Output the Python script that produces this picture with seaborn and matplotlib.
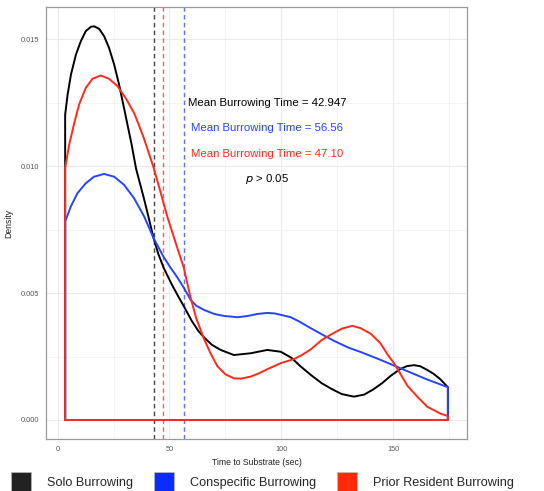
import numpy as np
import pandas as pd
import matplotlib
matplotlib.use("Agg")
import matplotlib.pyplot as plt
from matplotlib.patches import Patch
from matplotlib.ticker import MultipleLocator
import seaborn as sns

# Groups and their mean times
groups = ["Solo Burrowing", "Conspecific Burrowing", "Prior Resident Burrowing"]
means = [42.947, 56.56, 47.10]
mean_labels = ["42.947", "56.56", "47.10"]

# Density estimates (time in sec, density)
solo_t = [3.4, 4.5, 6.0, 8.2, 10.4, 12.6, 14.9, 16.3, 18.6, 20.8, 23.0,
          25.3, 27.5, 29.7, 31.25, 33.0, 35.1, 38.4, 40.5, 42.9, 45.0, 47.4,
          51.0, 54.0, 56.5, 60.0, 63.0, 65.4, 69.0, 72.9, 78.8, 86.3, 93.7,
          99.7, 104.5, 108.5, 113.1, 118.0, 122.5, 127.0, 132.4, 137.0,
          141.0, 145.0, 149.0, 153.0, 156.0, 159.2, 162.0, 165.2, 168.0,
          171.1, 174.4]
solo_d = [0.01204, 0.01283, 0.01362, 0.01440, 0.01493, 0.01533, 0.01550,
          0.01552, 0.01542, 0.01513, 0.01467, 0.01401, 0.01322, 0.01230,
          0.01164, 0.01090, 0.00990, 0.00880, 0.00805, 0.00717, 0.00655,
          0.00600, 0.00535, 0.00486, 0.00447, 0.00390, 0.00350, 0.00326,
          0.00296, 0.00276, 0.00256, 0.00263, 0.00276, 0.00269, 0.00245,
          0.00212, 0.00178, 0.00145, 0.00122, 0.00102, 0.00092, 0.00100,
          0.00120, 0.00145, 0.00175, 0.00200, 0.00212, 0.00216, 0.00212,
          0.00197, 0.00182, 0.00160, 0.00129]

consp_t = [3.4, 5.9, 8.9, 12.6, 16.3, 20.8, 25.3, 29.7, 34.2, 38.7, 42.9,
           47.3, 50.5, 53.3, 56.5, 59.5, 62.0, 65.4, 70.0, 74.4, 80.4, 85.0,
           89.3, 93.7, 97.0, 100.0, 104.2, 108.0, 113.1, 118.0, 123.5, 130.0,
           135.4, 144.3, 151.0, 158.0, 165.0, 174.4]
consp_d = [0.00782, 0.00841, 0.00894, 0.00933, 0.00959, 0.00970, 0.00959,
           0.00927, 0.00874, 0.00802, 0.00717, 0.00644, 0.00600, 0.00565,
           0.00520, 0.00473, 0.00450, 0.00434, 0.00418, 0.00410, 0.00405,
           0.00410, 0.00418, 0.00422, 0.00420, 0.00414, 0.00405, 0.00388,
           0.00362, 0.00338, 0.00312, 0.00285, 0.00268, 0.00237, 0.00212,
           0.00186, 0.00160, 0.00129]

prior_t = [3.4, 5.2, 7.3, 9.6, 12.6, 15.6, 19.3, 23.0, 26.8, 30.5, 34.2,
           36.0, 38.4, 40.5, 42.9, 45.8, 49.1, 51.8, 54.0, 56.4, 59.5, 62.0,
           65.4, 68.5, 71.4, 75.0, 78.8, 82.0, 86.3, 90.0, 93.7, 99.7, 105.6,
           109.0, 113.1, 118.0, 122.0, 127.0, 131.7, 135.4, 139.9, 144.3,
           147.3, 150.3, 153.3, 156.3, 160.7, 165.2, 168.1, 171.0, 174.4]
prior_d = [0.00995, 0.01085, 0.01165, 0.01243, 0.01309, 0.01345, 0.01358,
           0.01345, 0.01316, 0.01268, 0.01210, 0.01170, 0.01115, 0.01060,
           0.00995, 0.00905, 0.00800, 0.00725, 0.00665, 0.00600, 0.00480,
           0.00400, 0.00320, 0.00260, 0.00212, 0.00180, 0.00164, 0.00163,
           0.00171, 0.00184, 0.00200, 0.00224, 0.00240, 0.00255, 0.00278,
           0.00315, 0.00336, 0.00360, 0.00371, 0.00362, 0.00340, 0.00302,
           0.00260, 0.00224, 0.00180, 0.00135, 0.00092, 0.00052, 0.00039,
           0.00025, 0.00016]

line_colors = ["#000000", "#2444ff", "#ff2a1a"]
key_colors = ["#222222", "#0a2cff", "#ff2a0a"]
vline_colors = ["#444444", "#5a72ff", "#ff5a50"]


def outline(t, d):
    # closed outline of a density area: up from the baseline, along the
    # curve, back down and along the baseline to the start
    xs = [t[0]] + list(t) + [t[-1], t[0]]
    ys = [0.0] + list(d) + [0.0, 0.0]
    return xs, ys


frames = []
for name, t, d in zip(groups, [solo_t, consp_t, prior_t],
                      [solo_d, consp_d, prior_d]):
    xs, ys = outline(t, d)
    frames.append(pd.DataFrame({"time": xs, "density": ys, "group": name}))
df = pd.concat(frames, ignore_index=True)

sns.set_theme(style="whitegrid")
plt.rcParams["font.family"] = ["Liberation Sans", "DejaVu Sans"]

fig = plt.figure(figsize=(5.44, 4.91), dpi=100)
ax = fig.add_axes([0.0846, 0.1049, 0.7739, 0.8808])

sns.lineplot(data=df, x="time", y="density", hue="group", hue_order=groups,
             palette=line_colors, sort=False, estimator=None, units="group",
             linewidth=1.4, legend=False, ax=ax)
for ln in ax.lines:
    ln.set_solid_joinstyle("round")

for m, c in zip(means, vline_colors):
    ax.axvline(m, color=c, linestyle=(0, (3.2, 2.4)), linewidth=1.0, zorder=1)

ax.set_xlim(-5.15, 182.95)
ax.set_ylim(-0.00077, 0.01628)
ax.xaxis.set_minor_locator(MultipleLocator(25))
ax.yaxis.set_minor_locator(MultipleLocator(0.0025))
ax.set_xticks([0, 50, 100, 150])
ax.set_xticklabels(["0", "50", "100", "150"])
ax.set_yticks([0.0, 0.005, 0.010, 0.015])
ax.set_yticklabels(["0.000", "0.005", "0.010", "0.015"])
ax.grid(which="major", color="#ebebeb", linewidth=0.8)
ax.grid(which="minor", color="#f2f2f2", linewidth=0.5)
ax.set_axisbelow(True)
for s in ax.spines.values():
    s.set_color("#9a9a9a")
    s.set_linewidth(0.9)
ax.tick_params(axis="both", which="major", length=3, width=0.6,
               color="#9a9a9a", labelsize=5.3, labelcolor="#555555", pad=2)
ax.tick_params(axis="both", which="minor", length=0)
ax.set_xlabel("Time to Substrate (sec)", fontsize=6.2, color="#222222",
              labelpad=3)
ax.set_ylabel("Density", fontsize=6.2, color="#222222", labelpad=5)

# Mean annotations
text_x = 93.5
text_y = [0.01250, 0.01150, 0.01049]
for lbl, c, yv in zip(mean_labels, line_colors, text_y):
    ax.text(text_x, yv, f"Mean Burrowing Time = {lbl}", color=c,
            fontsize=8.2, ha="center", va="center")
ax.text(text_x, 0.00950, r"$p$ > 0.05", color="#000000", fontsize=8.2,
        ha="center", va="center")

handles = [Patch(facecolor=k, edgecolor="#bbbbbb", linewidth=0.5)
           for k in key_colors]
fig.legend(handles, groups, loc="center", bbox_to_anchor=(0.483, 0.0185),
           ncol=3, frameon=False, fontsize=9.1, handlelength=1.55,
           handleheight=2.15, handletextpad=1.3, columnspacing=1.65,
           borderpad=0.0, borderaxespad=0.0)

fig.savefig("out.png", dpi=100)
